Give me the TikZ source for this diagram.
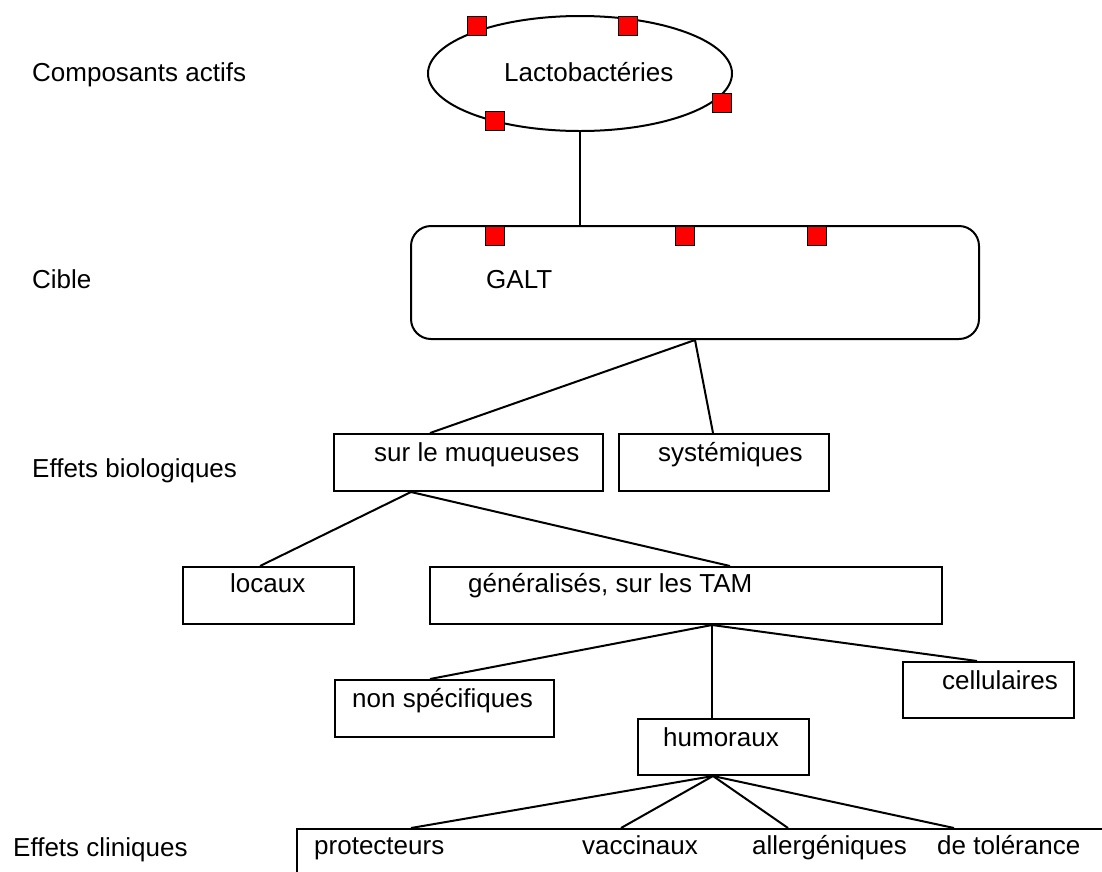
\documentclass[tikz,border=0pt]{standalone}
\usepackage{fontspec}
\setmainfont{Liberation Sans}
\usetikzlibrary{shapes.geometric}
\begin{document}
\begin{tikzpicture}[x=1pt,y=-1pt,
  every node/.style={font=\fontsize{26}{30}\selectfont},
  box/.style={draw,line width=2pt,rectangle,anchor=north west,inner sep=0pt},
  txt/.style={anchor=west,inner sep=0pt,text height=19pt,text depth=5.5pt,yshift=-2.5pt},
  sq/.style={draw,line width=1.4pt,fill=red,minimum size=19pt,inner sep=0pt},
  conn/.style={line width=2pt}]
\useasboundingbox (0,0) rectangle (1102,871);
\clip (0,0) rectangle (1102,871);
% left labels
\node[txt] (l1) at (32,72) {Composants actifs};
\node[txt] (l2) at (32,279) {Cible};
\node[txt] (l3) at (32,468) {Effets biologiques};
\node[txt] (l4) at (13,847) {Effets cliniques};
% ellipse
\node[draw,line width=2pt,ellipse,minimum width=304pt,minimum height=115pt,inner sep=0pt] (ell) at (580,73.5) {};
\node[txt] (tlac) at (504,72) {Lactobactéries};
% GALT
\node[box,rounded corners=20pt,minimum width=568pt,minimum height=113pt] (galt) at (410,225) {};
\node[txt] (tgalt) at (486,279) {GALT};
% boxes
\node[box,minimum width=269pt,minimum height=57pt] (muq) at (333,433) {};
\node[txt] at (374,452) {sur le muqueuses};
\node[box,minimum width=210pt,minimum height=57pt] (sys) at (618,433) {};
\node[txt] at (658,452) {systémiques};
\node[box,minimum width=171pt,minimum height=57pt] (loc) at (182,566) {};
\node[txt] at (230,583) {locaux};
\node[box,minimum width=512pt,minimum height=57pt] (gen) at (429,566) {};
\node[txt] at (468,583) {généralisés, sur les TAM};
\node[box,minimum width=219pt,minimum height=57pt] (nsp) at (334,679) {};
\node[txt] at (352,698) {non spécifiques};
\node[box,minimum width=171pt,minimum height=56pt] (hum) at (637,718) {};
\node[txt] at (663,737) {humoraux};
\node[box,minimum width=171pt,minimum height=56pt] (cel) at (902,661) {};
\node[txt] at (942,680) {cellulaires};
\node[box,minimum width=830pt,minimum height=80pt] (clin) at (296,828) {};
\node[txt] at (314,845) {protecteurs};
\node[txt] at (582,845) {vaccinaux};
\node[txt] at (752,845) {allergéniques};
\node[txt] at (937,845) {de tolérance};
% connectors
\draw[conn] (ell.south) -- (ell.south |- galt.north);
\draw[conn] ([xshift=285pt]galt.south west) -- ([xshift=97pt]muq.north west);
\draw[conn] ([xshift=285pt]galt.south west) -- ([xshift=95pt]sys.north west);
\draw[conn] ([xshift=78pt]muq.south west) -- ([xshift=78pt]loc.north west);
\draw[conn] ([xshift=78pt]muq.south west) -- ([xshift=301pt]gen.north west);
\draw[conn] ([xshift=283pt]gen.south west) -- ([xshift=96pt]nsp.north west);
\draw[conn] ([xshift=283pt]gen.south west) -- ([xshift=75pt]hum.north west);
\draw[conn] ([xshift=283pt]gen.south west) -- ([xshift=75pt]cel.north west);
\draw[conn] ([xshift=76pt]hum.south west) -- ([xshift=115pt]clin.north west);
\draw[conn] ([xshift=76pt]hum.south west) -- ([xshift=325pt]clin.north west);
\draw[conn] ([xshift=76pt]hum.south west) -- ([xshift=492pt]clin.north west);
\draw[conn] ([xshift=76pt]hum.south west) -- ([xshift=658pt]clin.north west);
% red squares
\node[sq] (s1) at (477,26) {};
\node[sq] (s2) at (628,26) {};
\node[sq] (s3) at (722,103) {};
\node[sq] (s4) at (495,121) {};
\node[sq,anchor=north] (s5) at (495,226) {};
\node[sq,anchor=north] (s6) at (685,226) {};
\node[sq,anchor=north] (s7) at (817,226) {};
\end{tikzpicture}
\end{document}
